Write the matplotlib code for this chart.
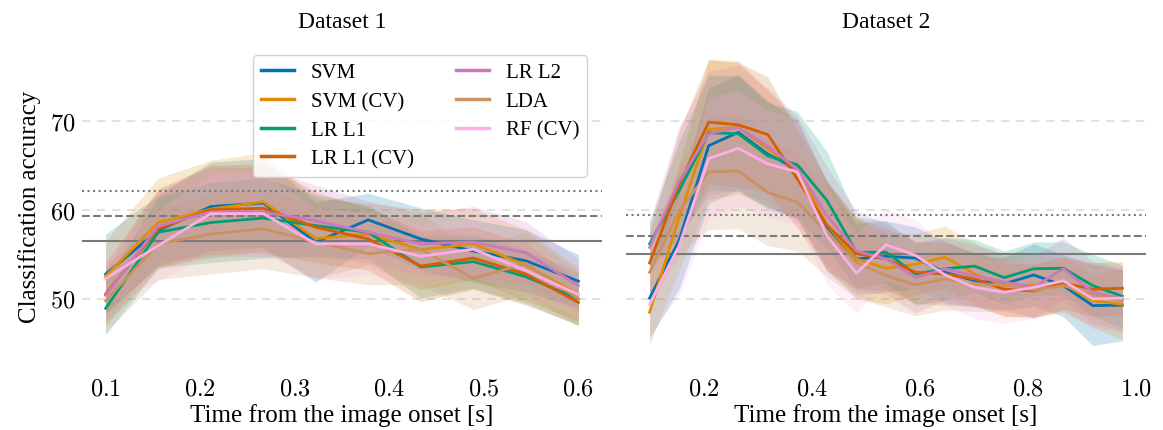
import numpy as np
import matplotlib
matplotlib.use("Agg")
import matplotlib.pyplot as plt
from matplotlib.ticker import FuncFormatter

plt.rcParams['font.family'] = ['Liberation Serif', 'DejaVu Serif']
plt.rcParams['mathtext.fontset'] = 'cm'

# ---------------- data ----------------
models = ["SVM", "SVM (CV)", "LR L1", "LR L1 (CV)", "LR L2", "LDA", "RF (CV)"]
colors = ["#0173B2", "#DE8F05", "#029E73", "#D55E00", "#CC78BC", "#CA9161", "#FBAFE4"]

# Dataset 1
t1 = np.linspace(0.1, 0.6, 10)
d1_svm = [52.8, 57.7, 60.4, 60.8, 56.4, 58.9, 56.75, 55.4, 54.3, 52.0]
d1_svm_cv = [52.55, 58.6, 60.1, 60.95, 56.8, 57.3, 55.55, 56.2, 53.8, 50.5]
d1_lr_l1 = [48.95, 57.5, 58.6, 59.1, 58.25, 57.5, 53.6, 54.2, 52.5, 50.0]
d1_lr_l1_cv = [50.56, 57.9, 60.05, 60.2, 58.07, 56.75, 53.7, 54.6, 52.8, 49.6]
d1_lr_l2 = [50.4, 58.2, 59.8, 59.8, 58.8, 57.5, 56.2, 56.4, 55.2, 51.5]
d1_lda = [49.8, 56.2, 57.3, 57.9, 56.4, 55.1, 55.6, 52.3, 54.0, 50.0]
d1_rf_cv = [52.3, 56.0, 59.6, 59.6, 56.2, 56.2, 54.8, 55.6, 53.2, 50.5]

d1_svm_sd = [4.5, 4.0, 5.0, 5.0, 4.5, 3.0, 3.5, 3.5, 3.5, 3.0]
d1_svm_cv_sd = [4.0, 5.0, 5.5, 5.5, 4.5, 3.5, 4.5, 4.0, 4.0, 3.0]
d1_lr_l1_sd = [3.0, 4.0, 4.5, 4.5, 3.5, 3.0, 3.5, 3.0, 3.0, 3.0]
d1_lr_l1_cv_sd = [3.5, 4.5, 5.0, 5.0, 4.0, 3.5, 4.0, 3.5, 3.5, 2.5]
d1_lr_l2_sd = [3.0, 4.0, 5.0, 5.0, 4.0, 3.5, 3.5, 4.0, 3.5, 3.0]
d1_lda_sd = [3.5, 4.0, 4.5, 4.5, 4.0, 3.5, 4.0, 3.5, 3.5, 3.0]
d1_rf_cv_sd = [3.0, 4.0, 4.5, 4.5, 4.0, 3.5, 3.5, 3.0, 3.0, 2.5]

d1_refs = [56.56, 59.31, 62.19]  # solid, dashed, dotted

# Dataset 2
t2 = np.linspace(0.1, 0.975, 17)
d2_svm = [50.1, 56.6, 67.25, 68.75, 66.3, 64.6, 58.1, 54.5, 54.8, 54.6, 53.0, 52.05, 51.7, 52.7, 51.5, 49.25, 49.3]
d2_svm_cv = [48.5, 59.2, 69.1, 69.3, 66.9, 64.6, 58.3, 54.5, 53.45, 53.9, 54.7, 52.8, 51.5, 51.5, 51.7, 49.8, 49.4]
d2_lr_l1 = [56.2, 62.2, 68.7, 68.6, 66.1, 65.1, 61.1, 55.25, 55.25, 52.8, 53.4, 53.7, 52.4, 53.4, 53.45, 51.5, 50.3]
d2_lr_l1_cv = [54.05, 62.9, 69.9, 69.6, 68.5, 63.5, 58.3, 55.1, 54.5, 53.0, 52.8, 52.25, 51.1, 50.9, 51.8, 51.1, 51.2]
d2_lr_l2 = [55.8, 63.3, 68.6, 69.3, 67.2, 64.6, 59.4, 55.4, 54.5, 52.4, 53.4, 52.6, 51.9, 51.3, 53.4, 50.75, 50.0]
d2_lda = [53.0, 59.9, 64.3, 64.4, 62.0, 60.9, 57.5, 54.1, 52.6, 51.6, 52.25, 51.6, 51.6, 51.0, 51.5, 50.5, 49.8]
d2_rf_cv = [49.4, 56.0, 65.8, 66.96, 65.2, 64.3, 57.1, 52.9, 56.1, 54.9, 52.7, 51.3, 50.75, 51.3, 52.05, 50.0, 50.1]

d2_svm_sd = [4.5, 5.5, 6.5, 6.5, 6.0, 5.5, 5.0, 4.0, 4.0, 3.5, 3.5, 3.0, 3.0, 3.5, 3.5, 4.5, 4.0]
d2_svm_cv_sd = [3.6, 6.0, 7.9, 7.5, 6.5, 5.5, 5.0, 4.5, 4.0, 3.5, 3.5, 3.5, 3.5, 3.5, 3.0, 3.0, 4.0]
d2_lr_l1_sd = [2.5, 5.5, 6.5, 6.5, 6.0, 6.0, 5.5, 4.0, 3.5, 3.5, 3.5, 3.0, 3.0, 3.0, 3.0, 3.5, 3.5]
d2_lr_l1_cv_sd = [3.5, 6.0, 7.0, 7.0, 6.5, 5.5, 5.0, 4.0, 3.5, 3.5, 3.5, 3.0, 3.0, 3.0, 3.0, 3.0, 3.0]
d2_lr_l2_sd = [3.0, 6.0, 7.0, 7.0, 6.5, 6.0, 5.5, 4.5, 4.0, 4.0, 3.5, 3.5, 3.0, 3.5, 3.5, 3.5, 3.5]
d2_lda_sd = [3.5, 5.0, 6.5, 6.5, 6.0, 5.5, 5.0, 4.0, 3.5, 3.5, 3.5, 3.0, 3.0, 3.0, 3.0, 3.5, 3.5]
d2_rf_cv_sd = [3.5, 5.5, 6.8, 6.5, 6.0, 6.0, 5.5, 4.5, 4.0, 4.0, 3.5, 3.5, 3.5, 3.5, 3.5, 3.5, 3.5]

d2_refs = [55.10, 57.09, 59.49]

# ---------------- plot ----------------
panels = [
    ("Dataset 1", t1,
     [d1_svm, d1_svm_cv, d1_lr_l1, d1_lr_l1_cv, d1_lr_l2, d1_lda, d1_rf_cv],
     [d1_svm_sd, d1_svm_cv_sd, d1_lr_l1_sd, d1_lr_l1_cv_sd, d1_lr_l2_sd, d1_lda_sd, d1_rf_cv_sd],
     d1_refs, [0.1, 0.2, 0.3, 0.4, 0.5, 0.6]),
    ("Dataset 2", t2,
     [d2_svm, d2_svm_cv, d2_lr_l1, d2_lr_l1_cv, d2_lr_l2, d2_lda, d2_rf_cv],
     [d2_svm_sd, d2_svm_cv_sd, d2_lr_l1_sd, d2_lr_l1_cv_sd, d2_lr_l2_sd, d2_lda_sd, d2_rf_cv_sd],
     d2_refs, [0.2, 0.4, 0.6, 0.8, 1.0]),
]

fig, axes = plt.subplots(1, 2, figsize=(11.63, 4.31), dpi=100, sharey=True)
fig.subplots_adjust(left=0.0705, right=0.9854, top=0.905, bottom=0.135, wspace=0.046)

ref_styles = ["-", "--", ":"]

for ax, (title, t, series, sds, refs, xt) in zip(axes, panels):
    for y in [50, 60, 70]:
        ax.axhline(y, color="#dcdcdc", lw=1.2, ls=(0, (5, 4)), zorder=0)
    for m, c, s, sd in zip(models, colors, series, sds):
        s = np.asarray(s)
        sd = np.asarray(sd)
        ax.fill_between(t, s - sd, s + sd, color=c, alpha=0.2, lw=0, zorder=1)
    for m, c, s in zip(models, colors, series):
        ax.plot(t, s, color=c, lw=2.0, label=m, zorder=3)
    for r, ls in zip(refs, ref_styles):
        ax.axhline(r, color="#7a7a7a", lw=1.5, ls=ls, zorder=2)
    ax.set_title(title, fontsize=17, pad=9)
    ax.set_xlabel("Time from the image onset [s]", fontsize=18, labelpad=2)
    ax.set_xticks(xt)
    ax.xaxis.set_major_formatter(FuncFormatter(lambda v, p: f"${v:.1f}$"))
    for sp in ax.spines.values():
        sp.set_visible(False)
    ax.tick_params(length=0, labelsize=17.5, pad=5)
    ax.margins(x=0.05)

axes[0].set_yticks([50, 60, 70])
axes[0].yaxis.set_major_formatter(FuncFormatter(lambda v, p: f"${v:.0f}$"))
axes[0].set_ylim(41.8, 79.15)
axes[0].set_ylabel("Classification accuracy", fontsize=18, labelpad=6)
axes[1].tick_params(labelleft=False)

leg = axes[0].legend(ncol=2, loc="upper right", fontsize=15, handlelength=1.6,
                     labelspacing=0.44, columnspacing=2.0, borderaxespad=0.7,
                     frameon=True, fancybox=True, framealpha=0.85)
leg.get_frame().set_edgecolor("#cccccc")
for h in leg.get_lines():
    h.set_linewidth(2.5)

fig.savefig("out.png", dpi=100)
